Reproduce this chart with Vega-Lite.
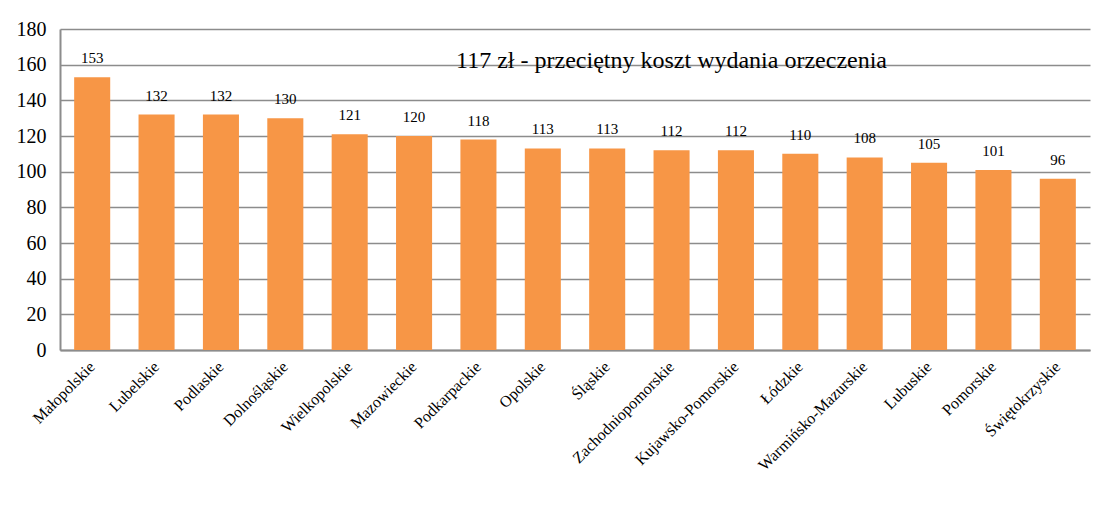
{
  "$schema": "https://vega.github.io/schema/vega-lite/v6.json",
  "autosize": "none",
  "width": 1030,
  "height": 321,
  "padding": {"left": 60, "top": 29, "right": 15, "bottom": 167},
  "background": "white",
  "config": {
    "view": {"stroke": null},
    "font": "Liberation Serif",
    "axis": {"labelFont": "Liberation Serif"},
    "text": {"font": "Liberation Serif"}
  },
  "data": {
    "values": [
      {"region": "Małopolskie", "cost": 153},
      {"region": "Lubelskie", "cost": 132},
      {"region": "Podlaskie", "cost": 132},
      {"region": "Dolnośląskie", "cost": 130},
      {"region": "Wielkopolskie", "cost": 121},
      {"region": "Mazowieckie", "cost": 120},
      {"region": "Podkarpackie", "cost": 118},
      {"region": "Opolskie", "cost": 113},
      {"region": "Śląskie", "cost": 113},
      {"region": "Zachodniopomorskie", "cost": 112},
      {"region": "Kujawsko-Pomorskie", "cost": 112},
      {"region": "Łódzkie", "cost": 110},
      {"region": "Warmińsko-Mazurskie", "cost": 108},
      {"region": "Lubuskie", "cost": 105},
      {"region": "Pomorskie", "cost": 101},
      {"region": "Świętokrzyskie", "cost": 96}
    ]
  },
  "encoding": {
    "x": {
      "field": "region",
      "type": "nominal",
      "sort": null,
      "scale": {"paddingInner": 0.44, "paddingOuter": 0.22},
      "axis": {
        "title": null,
        "labelAngle": -45,
        "labelAlign": "right",
        "labelBaseline": "middle",
        "labelFontSize": 16,
        "labelColor": "black",
        "labelPadding": 14,
        "ticks": false,
        "domainColor": "#8c8c8c",
        "domainWidth": 2
      }
    },
    "y": {
      "field": "cost",
      "type": "quantitative",
      "scale": {"domain": [0, 180]},
      "axis": {
        "title": null,
        "values": [0, 20, 40, 60, 80, 100, 120, 140, 160, 180],
        "labelFontSize": 20,
        "labelColor": "black",
        "labelPadding": 14,
        "ticks": false,
        "domainColor": "#8c8c8c",
        "domainWidth": 2,
        "gridColor": "#8c8c8c",
        "gridWidth": 1.5,
        "gridOpacity": 1
      }
    }
  },
  "layer": [
    {"mark": {"type": "bar", "color": "#F79646"}},
    {
      "mark": {"type": "text", "baseline": "bottom", "dy": -11, "fontSize": 15, "color": "black"},
      "encoding": {"text": {"field": "cost", "type": "quantitative"}}
    },
    {
      "data": {"values": [{"label": "117 zł - przeciętny koszt wydania orzeczenia", "region": "Zachodniopomorskie", "cost": 162}]},
      "mark": {"type": "text", "fontSize": 24, "color": "black", "baseline": "middle"},
      "encoding": {
        "text": {"field": "label"}
      }
    }
  ]
}
